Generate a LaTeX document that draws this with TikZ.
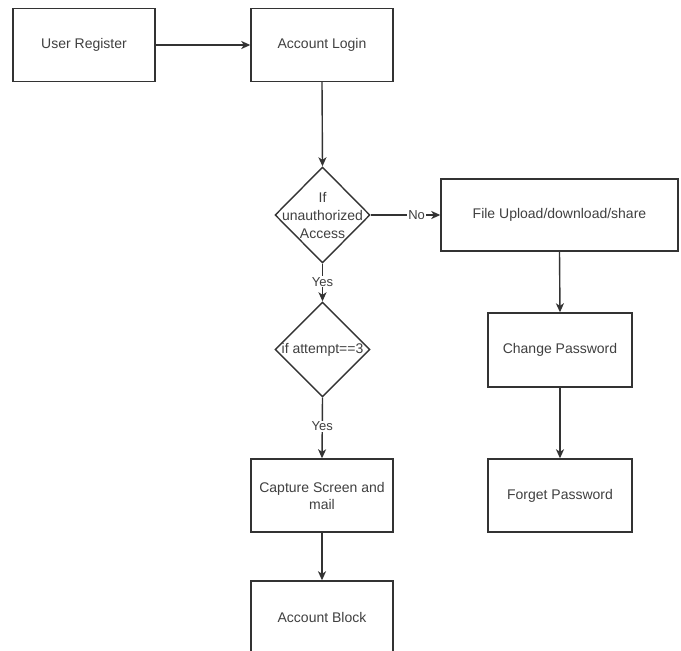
\documentclass[tikz,border=0pt]{standalone}
\usepackage{fontspec}
\setmainfont{Liberation Sans}
\usetikzlibrary{shapes.geometric,arrows.meta}
\definecolor{linec}{HTML}{333333}
\definecolor{textc}{HTML}{404040}
\begin{document}
\begin{tikzpicture}[x=1pt,y=1pt,
  box/.style={draw=linec,line width=1.4pt,rectangle,minimum width=142pt,minimum height=73pt,inner sep=0pt,
    text=textc,font=\fontsize{14}{17}\selectfont,align=center},
  dia/.style={draw=linec,line width=1.4pt,diamond,minimum width=95pt,minimum height=96pt,inner sep=0pt},
  dtxt/.style={text=textc,font=\fontsize{14}{18}\selectfont,align=center,inner sep=0pt},
  conn/.style={draw=linec,line width=1.4pt,-{Stealth[length=9pt,width=8pt,inset=2.5pt]}},
  lbl/.style={fill=white,text=textc,font=\fontsize{13}{14}\selectfont,inner sep=1pt}]
\path[use as bounding box,clip] (0,0) rectangle (681,-651);
\fill[white] (0,0) rectangle (681,-651);
\node[box] (ur) at (84,-45) {User Register};
\node[box] (al) at (322,-45) {Account Login};
\node[dia] (d1) at (322.5,-215) {};
\node[dtxt] (d1t) at (322.5,-215) {If\\unauthorized\\Access};
\node[box,minimum width=237pt,minimum height=72pt] (fu) at (559.5,-215) {File Upload/download/share};
\node[dia,minimum height=95pt] (d2) at (322.5,-349.5) {};
\node[dtxt] (d2t) at (322.5,-349.5) {if attempt==3};
\node[box,minimum width=144pt,minimum height=74pt] (cp) at (560,-350) {Change Password};
\node[box,minimum width=144pt] (fp) at (560,-495.5) {Forget Password};
\node[box] (cs) at (322,-495.5) {Capture Screen and\\mail};
\node[box] (ab) at (322,-617.5) {Account Block};
\draw[conn] (ur.east) -- (al.west);
\draw[conn] (al.south) -- (d1.north);
\draw[conn] (d1.east) -- node[lbl,pos=0.66] {No} (fu.west);
\draw[conn] (d1.south) -- node[lbl,pos=0.48] {Yes} (d2.north);
\draw[conn] (d2.south) -- node[lbl,pos=0.47] {Yes} (cs.north);
\draw[conn] (fu.south) -- (cp.north);
\draw[conn] (cp.south) -- (fp.north);
\draw[conn] (cs.south) -- (ab.north);
\end{tikzpicture}
\end{document}
